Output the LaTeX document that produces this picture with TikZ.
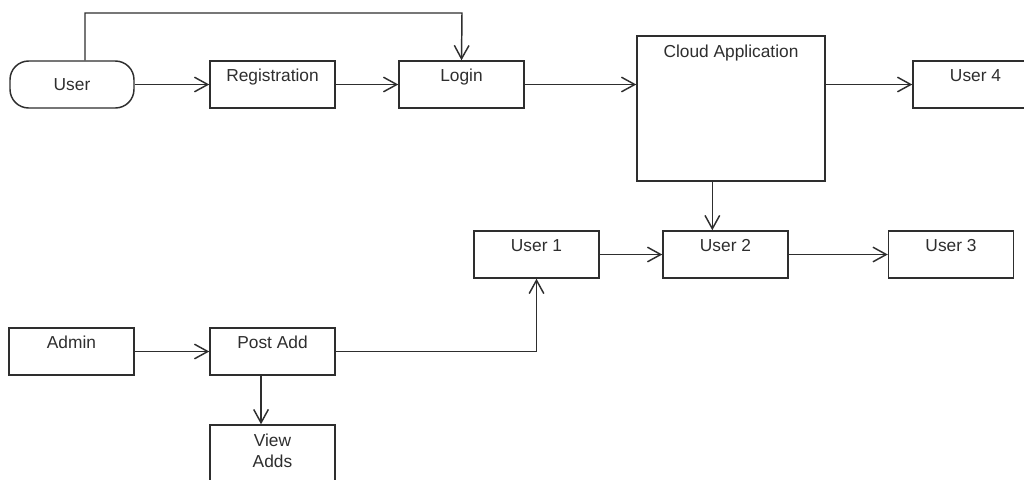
\documentclass[tikz,border=0pt]{standalone}
\usepackage{fontspec}
\setmainfont{Liberation Sans}
\usetikzlibrary{arrows.meta}
\definecolor{ink}{HTML}{2E2E2E}
\tikzset{
  box/.style={draw=ink, line width=1.1pt, fill=white, inner sep=0pt,
    minimum width=93.75pt, minimum height=35.25pt, text=ink,
    font=\fontsize{13}{15.75}\selectfont},
  toptext/.style={text height=10pt, text depth=#1},
  arr/.style={draw=ink, line width=1.1pt, -{Straight Barb[length=10pt,width=11pt,line width=1.1pt]}}
}
\begin{document}
\begin{tikzpicture}[x=0.75pt,y=-0.75pt]
\useasboundingbox (0,0) rectangle (1024,479);
\clip (0,0) rectangle (1024,479);
\node[box, rounded corners=14pt, minimum width=93pt] (user) at (72,84.5) {User};
\node[box, toptext=15.25pt] (reg) at (272.5,84.5) {Registration};
\node[box, toptext=15.25pt] (login) at (461.5,84.5) {Login};
\node[box, toptext=87.25pt, minimum width=141pt, minimum height=108.75pt] (cloud) at (731,108.5) {Cloud Application};
\node[box, toptext=15.25pt] (user4) at (975.5,84.5) {User 4};
\node[box, toptext=15.25pt] (user1) at (536.5,254.5) {User 1};
\node[box, toptext=15.25pt] (user2) at (725.5,254.5) {User 2};
\node[box, toptext=15.25pt] (user3) at (951,254.5) {User 3};
\node[box, toptext=15.25pt] (admin) at (71.5,351.5) {Admin};
\node[box, toptext=15.25pt] (post) at (272.5,351.5) {Post Add};
\node[box, align=center, text height=26pt, text depth=23pt, minimum height=60pt] (view) at (272.5,465) {View\\Adds};
\coordinate (topbend) at (462,13);
\draw[arr] ([xshift=9.75pt]user.north) |- (topbend) -- (login.north);
\draw[arr] (user.east) -- (reg.west);
\draw[arr] (reg.east) -- (login.west);
\draw[arr] (login.east) -- (login.east -| cloud.west);
\draw[arr] (cloud.east |- user4.west) -- (user4.west);
\draw[arr] ([xshift=-14pt]cloud.south) -- ([xshift=-14pt]cloud.south |- user2.north);
\draw[arr] (user1.east) -- (user2.west);
\draw[arr] (user2.east) -- (user3.west);
\draw[arr] (admin.east) -- (post.west);
\draw[arr] (post.east) -| (user1.south);
\draw[arr] ([xshift=-8.6pt]post.south) -- ([xshift=-8.6pt]view.north);
\end{tikzpicture}
\end{document}
